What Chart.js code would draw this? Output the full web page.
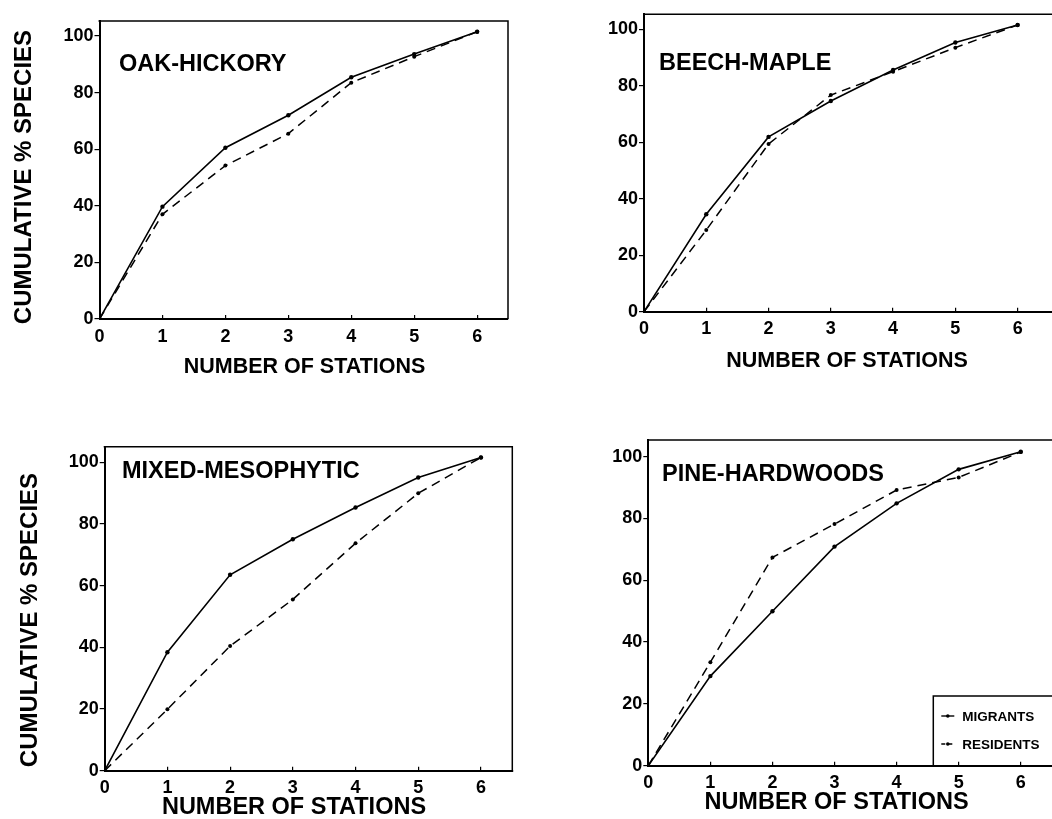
<!DOCTYPE html>
<html><head><meta charset="utf-8">
<script src="https://cdn.jsdelivr.net/npm/chart.js@4.4.1/dist/chart.umd.min.js"></script>
<style>
html,body{margin:0;padding:0;background:#fff;overflow:hidden;width:1052px;height:819px;}
canvas{position:absolute;left:0;top:0;}
</style></head><body>
<canvas id="c1" width="1080" height="819"></canvas>
<canvas id="c2" width="1080" height="819"></canvas>
<canvas id="c3" width="1080" height="819"></canvas>
<canvas id="c4" width="1080" height="819"></canvas>
<script>
// ---- data ----
const stations = [0, 1, 2, 3, 4, 5, 6];
const xTickValues = [0, 1, 2, 3, 4, 5, 6];
const xTickLabels = ['0', '1', '2', '3', '4', '5', '6'];
const yTickValues = [0, 20, 40, 60, 80, 100];
const yTickLabels = ['0', '20', '40', '60', '80', '100'];
const seriesNames = ['MIGRANTS', 'RESIDENTS'];
const panelNames = ['OAK-HICKORY', 'BEECH-MAPLE', 'MIXED-MESOPHYTIC', 'PINE-HARDWOODS'];
const xAxisTitle = 'NUMBER OF STATIONS';
const yAxisTitle = 'CUMULATIVE % SPECIES';

const oakMigrants     = [0, 39.7, 60.5, 72.0, 85.4, 93.6, 101.5];
const oakResidents    = [0, 37.0, 54.2, 65.5, 83.5, 92.7, 101.5];
const beechMigrants   = [0, 34.5, 61.9, 74.6, 85.6, 95.3, 101.5];
const beechResidents  = [0, 28.9, 59.4, 76.7, 85.0, 93.5, 101.5];
const mixedMigrants   = [0, 38.4, 63.5, 75.0, 85.3, 95.0, 101.5];
const mixedResidents  = [0, 19.9, 40.4, 55.5, 73.7, 89.9, 101.5];
const pineMigrants    = [0, 29.0, 50.0, 70.9, 84.9, 95.9, 101.6];
const pineResidents   = [0, 33.5, 67.4, 78.2, 89.2, 93.3, 101.5];

// ---- layout / style ----
const CW = 1080, CH = 819, YW = 60, XH = 40;
const FONT = '"Liberation Sans", Arial, Helvetica, sans-serif';
Chart.defaults.font.family = FONT;
Chart.defaults.font.weight = 'bold';
Chart.defaults.color = '#000';

const panels = [
  {id:'c1', mig:oakMigrants, res:oakResidents, name:panelNames[0],
   left:99.5, right:508, top:21, bottom:319, xMax:6.49, yMax:105.3,
   nm:{x:119, y:65, s:23.5}, xt:{x:304.5, y:366.7, s:21.5}, yt:{x:24, y:177, s:24}},
  {id:'c2', mig:beechMigrants, res:beechResidents, name:panelNames[1],
   left:644, right:1055, top:14.3, bottom:311.7, xMax:6.6, yMax:105.3,
   nm:{x:659, y:64, s:23.5}, xt:{x:847, y:361, s:21.5}},
  {id:'c3', mig:mixedMigrants, res:mixedResidents, name:panelNames[2],
   left:104.7, right:512.3, top:446.7, bottom:770.7, xMax:6.5, yMax:105,
   nm:{x:122, y:472, s:23.5}, xt:{x:294, y:808, s:23.5}, yt:{x:30, y:620, s:24}},
  {id:'c4', mig:pineMigrants, res:pineResidents, name:panelNames[3],
   left:648.3, right:1058, top:440, bottom:765.7, xMax:6.6, yMax:105.4,
   nm:{x:662, y:475, s:23.5}, xt:{x:836.5, y:802.5, s:23.5},
   legend:{x:933.3, y:696, rows:[716, 744], s:13.5}}
];

function decor(P) {
  return {
    id: 'decor',
    afterDraw(chart) {
      const ctx = chart.ctx, a = chart.chartArea;
      ctx.save();
      ctx.strokeStyle = '#000';
      ctx.lineWidth = 1.5;
      ctx.beginPath();
      ctx.moveTo(a.left - 1, a.top); ctx.lineTo(a.right, a.top); ctx.lineTo(a.right, a.bottom);
      ctx.stroke();
      ctx.fillStyle = '#000';
      ctx.textBaseline = 'middle';
      ctx.textAlign = 'left';
      ctx.font = 'bold ' + P.nm.s + 'px ' + FONT;
      ctx.fillText(P.name, P.nm.x, P.nm.y);
      ctx.textAlign = 'center';
      ctx.font = 'bold ' + P.xt.s + 'px ' + FONT;
      ctx.fillText(xAxisTitle, P.xt.x, P.xt.y);
      if (P.yt) {
        ctx.save();
        ctx.translate(P.yt.x, P.yt.y);
        ctx.rotate(-Math.PI / 2);
        ctx.font = 'bold ' + P.yt.s + 'px ' + FONT;
        ctx.fillText(yAxisTitle, 0, 0);
        ctx.restore();
      }
      if (P.legend) {
        const L = P.legend;
        ctx.lineWidth = 1.5;
        ctx.beginPath();
        ctx.moveTo(L.x, a.bottom); ctx.lineTo(L.x, L.y); ctx.lineTo(CW, L.y);
        ctx.stroke();
        chart.data.datasets.forEach((ds, i) => {
          const y = L.rows[i];
          ctx.lineWidth = 1.4;
          ctx.setLineDash(ds.borderDash && ds.borderDash.length ? [4, 3] : []);
          ctx.beginPath(); ctx.moveTo(L.x + 8, y); ctx.lineTo(L.x + 21, y); ctx.stroke();
          ctx.setLineDash([]);
          ctx.beginPath(); ctx.arc(L.x + 14.5, y, 1.8, 0, Math.PI * 2); ctx.fill();
          ctx.textAlign = 'left';
          ctx.font = 'bold ' + L.s + 'px ' + FONT;
          ctx.fillText(ds.label, L.x + 29, y + 1);
        });
      }
      ctx.restore();
    }
  };
}

panels.forEach(P => {
  new Chart(document.getElementById(P.id), {
    type: 'line',
    data: {
      datasets: [
        {label: seriesNames[0], data: stations.map((x, i) => ({x, y: P.mig[i]})),
         borderColor:'#000', backgroundColor:'#000', borderWidth:1.6,
         pointRadius:2.2, pointBorderWidth:0, tension:0},
        {label: seriesNames[1], data: stations.map((x, i) => ({x, y: P.res[i]})),
         borderColor:'#000', backgroundColor:'#000', borderWidth:1.5, borderDash:[9, 6],
         pointRadius:2.0, pointBorderWidth:0, tension:0}
      ]
    },
    options: {
      responsive: false, animation: false, devicePixelRatio: 1,
      layout: {padding: {left: P.left - YW, right: CW - P.right, top: P.top, bottom: CH - P.bottom - XH}},
      plugins: {legend: {display: false}, tooltip: {enabled: false}},
      scales: {
        x: {
          type: 'linear', min: 0, max: P.xMax,
          afterBuildTicks: s => { s.ticks = xTickValues.map(v => ({value: v})); },
          afterFit: s => { s.height = XH; },
          grid: {drawOnChartArea: false, drawTicks: true, tickLength: -4, color: '#000', lineWidth: 1.2},
          border: {display: true, color: '#000', width: 2},
          ticks: {padding: 11, font: {size: 18, weight: 'bold'}, color: '#000', maxRotation: 0, autoSkip: false,
                  callback: v => xTickLabels[xTickValues.indexOf(v)]}
        },
        y: {
          type: 'linear', min: 0, max: P.yMax,
          afterBuildTicks: s => { s.ticks = yTickValues.map(v => ({value: v})); },
          afterFit: s => { s.width = YW; },
          grid: {drawOnChartArea: false, drawTicks: true, tickLength: 5, color: '#000', lineWidth: 1.2},
          border: {display: true, color: '#000', width: 2},
          ticks: {padding: 1, font: {size: 18, weight: 'bold'}, color: '#000', autoSkip: false,
                  callback: v => yTickLabels[yTickValues.indexOf(v)]}
        }
      }
    },
    plugins: [decor(P)]
  });
});
</script>
</body></html>
